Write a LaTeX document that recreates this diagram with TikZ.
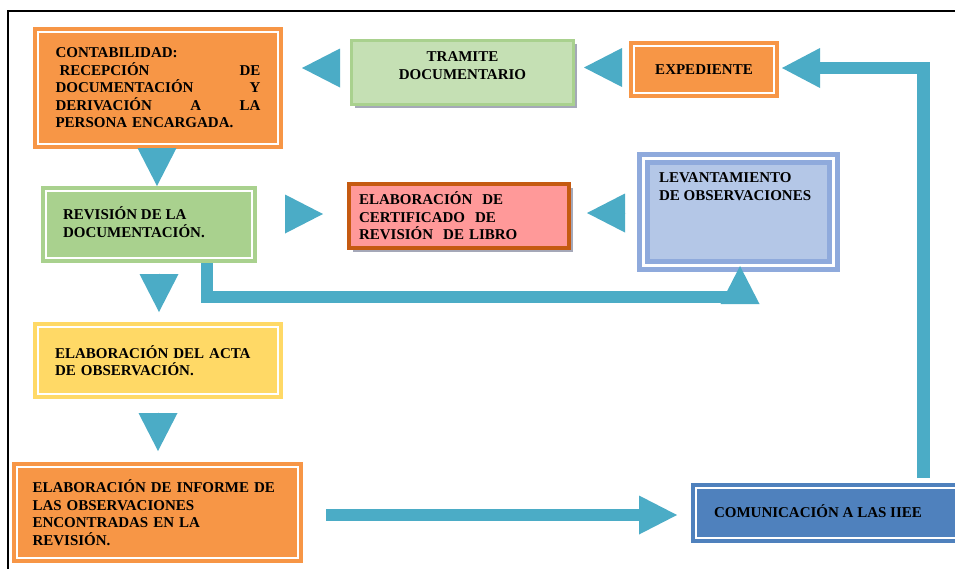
\documentclass[tikz,border=0pt]{standalone}
\usepackage{fontspec}
\setmainfont{Liberation Serif}
\usepackage{tikz}
\usetikzlibrary{arrows.meta}
\usetikzlibrary{positioning}
\usetikzlibrary{calc,shadows}
\definecolor{naranja}{HTML}{F79646}
\definecolor{verde}{HTML}{A9D18E}
\definecolor{verdeclaro}{HTML}{C5E0B4}
\definecolor{amarillo}{HTML}{FFD966}
\definecolor{rosa}{HTML}{FF9999}
\definecolor{ladrillo}{HTML}{C55A11}
\definecolor{celeste}{HTML}{B4C7E7}
\definecolor{celesteborde}{HTML}{8FAADC}
\definecolor{azul}{HTML}{4F81BD}
\definecolor{flecha}{HTML}{4BACC6}
\definecolor{sombra}{HTML}{A5A8B8}

\begin{document}
\begin{tikzpicture}[x=1pt,y=-1pt,
  font=\fontsize{15}{17.5}\selectfont\bfseries,
  block/.style={rectangle, inner sep=1pt, outer sep=0pt, line width=2pt},
  shade/.style={drop shadow={shadow xshift=3.5pt,shadow yshift=-3.5pt,
    fill=sombra,opacity=1}},
  inner/.style={draw=white, line width=1.5pt},
  tri/.style={draw=flecha, line width=0.01pt,
    -{Triangle[length=38pt,width=39pt,line width=0pt]}},
  bar/.style={draw=flecha, line width=12.5pt}]

  \useasboundingbox (0,0) rectangle (955,568);
  \clip (0,0) rectangle (955,568);
  \fill[white] (0,0) rectangle (955,568);
  \draw[line width=2pt] (7.5,600) |- (980,10.5);

  \node[block, draw=naranja, fill=naranja, minimum width=248pt, minimum height=120pt,
    text width=205pt, align=left] at (158,88) (conta)
  {CONTABILIDAD:\\ \hspace*{4pt}RECEPCIÓN\hfill DE\\ DOCUMENTACIÓN\hfill Y\\
   DERIVACIÓN\hfill A\hfill LA\\ PERSONA ENCARGADA.};

  \node[block, shade, draw=verde, fill=verdeclaro, line width=3pt,
    minimum width=222pt, minimum height=64pt] at (462.5,72.5) (tram)
  {\parbox[c][41pt][t]{200pt}{\centering TRAMITE\\DOCUMENTARIO}};

  \node[block, draw=naranja, fill=naranja, minimum width=148pt,
    minimum height=55pt] at (704,69.5) (exped) {EXPEDIENTE};

  \node[block, draw=verde, fill=verde, minimum width=214pt, minimum height=75pt]
    at (149,224.5) (rev)
  {\parbox[c][35pt][t]{172pt}{\raggedright REVISIÓN DE LA\\DOCUMENTACIÓN.}};

  \node[block, shade, draw=ladrillo, fill=rosa, line width=4pt, minimum width=220pt,
    minimum height=64pt, text width=200pt, align=left] at (459,216) (cert)
  {ELABORACIÓN\ \ DE\\CERTIFICADO\ \ DE\\REVISIÓN\ \ DE LIBRO};

  \node[block, draw=celesteborde, fill=celeste, line width=5pt, minimum width=198pt,
    minimum height=115pt] at (738.5,212) (lev)
  {\parbox[c][78pt][t]{159pt}{\raggedright LEVANTAMIENTO\\DE OBSERVACIONES}};

  \node[block, draw=amarillo, fill=amarillo, minimum width=248pt, minimum height=75pt,
    text width=206pt, align=left] at (158,360.5) (acta)
  {ELABORACIÓN DEL ACTA\\DE OBSERVACIÓN.};

  \node[block, draw=naranja, fill=naranja, minimum width=289pt, minimum height=99pt,
    text width=250pt, align=left] at (157.5,512.5) (inf)
  {ELABORACIÓN DE INFORME DE\\LAS OBSERVACIONES\\ENCONTRADAS EN LA\\REVISIÓN.};

  \node[block, draw=azul, fill=azul, minimum width=277pt, minimum height=58pt]
    at (830.5,513) (com)
  {\parbox[c][17pt][t]{233pt}{\raggedright COMUNICACIÓN A LAS IIEE}};

  \foreach \b in {conta,exped,rev,acta,inf,com}
    \draw[inner] ($(\b.north west)+(4,4)$) rectangle ($(\b.south east)+(-4,-4)$);
  \draw[inner, line width=3pt] ($(lev.north west)+(4.2,4.2)$)
    rectangle ($(lev.south east)+(-4.2,-4.2)$);
  \draw[draw=celesteborde, line width=5pt] ($(lev.north west)+(8.3,8.3)$)
    rectangle ($(lev.south east)+(-8.3,-8.3)$);

\coordinate (revout) at ($(rev.south)+(58,1)$);
\coordinate (levin) at ($(lev.south)+(1.5,27.5)$);
\coordinate (comout) at ($(com.north)+(93,-6)$);

\draw[tri] ($(tram.west)+(-11.5,-4.5)$) -- ++(-38,0);
\draw[tri] ($(exped.west)+(-8,-2)$) -- ++(-38,0);
\draw[tri] ($(conta.south)+(-1,1)$) -- ++(0,37);
\draw[tri] ($(rev.east)+(29,-10.5)$) -- ++(38,0);
\draw[tri] ($(lev.west)+(-13.5,1)$) -- ++(-39,0);
\draw[tri] ($(acta.north)+(1,-50)$) -- ++(0,39);
\draw[tri] ($(acta.south)+(0,14)$) -- ++(0,39);

\draw[bar] (revout) |- (levin);
\draw[tri] ($(lev.south)+(1.5,32.5)$) -- ($(lev.south)+(1.5,-3.5)$);
\draw[bar, -{Triangle[length=38pt,width=40pt,line width=0pt]}]
  (comout) |- ($(exped.east)+(4,-1.5)$);
\draw[bar, -{Triangle[length=38pt,width=39pt,line width=0pt]}]
  ($(inf.east)+(24,2.5)$) -- ($(com.west)+(-15,2)$);

\end{tikzpicture}
\end{document}
